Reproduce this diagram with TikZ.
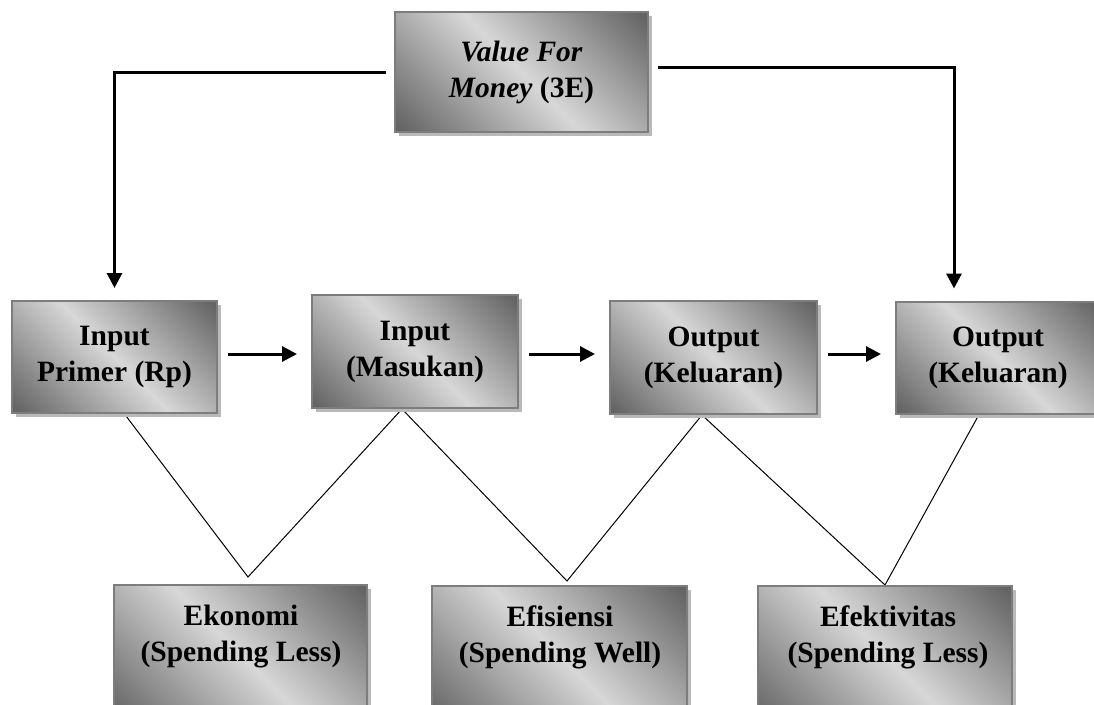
\documentclass[tikz,border=0pt]{standalone}
\usepackage{fontspec}
\setmainfont{Liberation Serif}
\usetikzlibrary{arrows.meta,shadows,backgrounds}
\definecolor{dk}{RGB}{100,100,100}
\definecolor{lt}{RGB}{215,215,215}
\definecolor{bord}{RGB}{125,125,125}
\definecolor{shad}{RGB}{185,185,185}
\pgfdeclareverticalshading{boxshade}{100bp}{color(0bp)=(dk); color(16bp)=(dk); color(50bp)=(lt); color(84bp)=(dk); color(100bp)=(dk)}
\tikzset{
  box/.style={draw=bord, line width=2pt, shading=boxshade, shading angle=-45,
    general shadow={fill=shad, shadow xshift=4pt, shadow yshift=-4pt},
    inner sep=0pt, align=center, font=\fontsize{29.5}{36}\selectfont\bfseries},
  txt/.style={inner sep=0pt, align=center, font=\fontsize{29.5}{36}\selectfont\bfseries},
  conn/.style={line width=3pt, -{Triangle[length=15pt,width=15pt]}},
  flow/.style={line width=3pt, -{Triangle[length=15pt,width=15pt]}, shorten <=10pt, shorten >=14pt},
  thinline/.style={line width=1pt, black}
}
\begin{document}
\begin{tikzpicture}[x=1pt,y=-1pt]
\useasboundingbox (0,0) rectangle (1094,704);
\clip (0,0) rectangle (1094,704);
% top box
\node[box, minimum width=253pt, minimum height=120pt] (vfm) at (521.5,72) {\textit{Value For}\\\textit{Money} (3E)};
% middle row
\node[box, minimum width=205pt, minimum height=112pt] (b1) at (114.5,357) {Input\\Primer (Rp)};
\node[box, minimum width=206pt, minimum height=113pt] (b2) at (415,351.5) {Input\\(Masukan)};
\node[box, minimum width=207pt, minimum height=113pt] (b3) at (713.5,357.5) {Output\\(Keluaran)};
\node[box, minimum width=204pt, minimum height=112pt] (b4) at (998,357.5) {Output\\(Keluaran)};
% bottom row
\node[box, minimum width=253pt, minimum height=140pt, anchor=north] (ek) at (240.5,584) {};
\node[box, minimum width=255pt, minimum height=140pt, anchor=north] (ef) at (559.5,585) {};
\node[box, minimum width=254pt, minimum height=140pt, anchor=north] (efk) at (885,585) {};
\node[txt] (ekt) at (241,637) {Ekonomi\\(Spending Less)};
\node[txt] (eft) at (560,637) {Efisiensi\\(Spending Well)};
\node[txt] (efkt) at (888,637) {Efektivitas\\(Spending Less)};
% connectors
\draw[conn, shorten <=8pt] (vfm.west) -| ([yshift=12pt]b1.north);
\draw[conn, shorten <=9pt] ([yshift=5pt]vfm.east) -| ([xshift=-44pt,yshift=12pt]b4.north);
\coordinate (row) at (0,354);
\draw[flow] (b1.east |- row) -- (b2.west |- row);
\draw[flow] (b2.east |- row) -- (b3.west |- row);
\draw[flow] (b3.east |- row) -- (b4.west |- row);
\coordinate (v1) at (248,577);
\coordinate (v2) at (567,581);
\coordinate (v3) at (885,585);
\begin{scope}[on background layer]
\draw[thinline] ([xshift=10pt]b1.south) -- (v1) -- ([xshift=-13pt]b2.south) -- (v2) -- ([xshift=-11.5pt]b3.south) -- (v3) -- ([xshift=-19pt]b4.south);
\end{scope}
\end{tikzpicture}
\end{document}
